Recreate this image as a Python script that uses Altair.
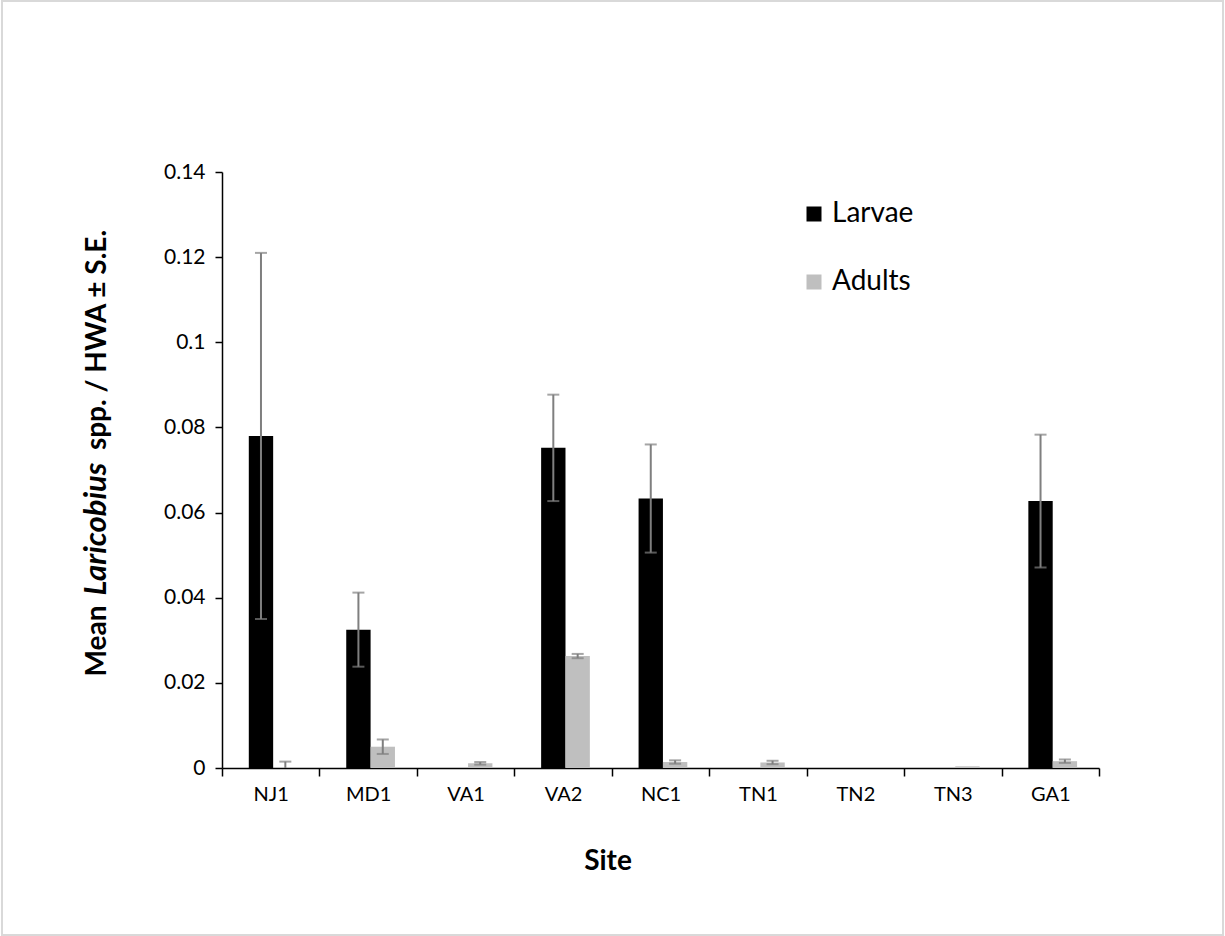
import altair as alt
import pandas as pd

sites = ["NJ1", "MD1", "VA1", "VA2", "NC1", "TN1", "TN2", "TN3", "GA1"]
stages = ["Larvae", "Adults"]
larvae_mean = [0.078, 0.0325, 0.0, 0.0752, 0.0633, 0.0, 0.0, 0.0, 0.0627]
larvae_se = [0.043, 0.0087, 0.0, 0.0125, 0.0127, 0.0, 0.0, 0.0, 0.0156]
adults_mean = [0.0, 0.005, 0.0011, 0.0263, 0.0014, 0.0013, 0.0, 0.0004, 0.0016]
adults_se = [0.0015, 0.0017, 0.0003, 0.0005, 0.0004, 0.0004, 0.0, 0.0, 0.0004]
y_ticks = [0, 0.02, 0.04, 0.06, 0.08, 0.1, 0.12, 0.14]

rows = []
for i, s in enumerate(sites):
    rows.append(dict(site=s, stage="Larvae", mean=larvae_mean[i], se=larvae_se[i]))
    rows.append(dict(site=s, stage="Adults", mean=adults_mean[i], se=adults_se[i]))
df = pd.DataFrame(rows)
df["lo"] = (df["mean"] - df["se"]).clip(lower=0)
df["hi"] = df["mean"] + df["se"]
err = df[df["se"] > 0]
lowcap = err[(err["mean"] - err["se"]) > 0]

W, H = 877, 596
FONT = "Lato"
ERR = "#7f7f7f"

x = alt.X("site:N", sort=sites,
          scale=alt.Scale(paddingInner=0, paddingOuter=0),
          axis=alt.Axis(title=None, tickBand="extent", labelAngle=0,
                        labelFont=FONT, labelFontSize=20, labelColor="black",
                        labelPadding=8, tickSize=8, tickColor="black", tickWidth=1.5,
                        domainColor="black", domainWidth=1.5))
xo = alt.XOffset("stage:N", sort=stages,
                 scale=alt.Scale(paddingInner=0, paddingOuter=1, align=0.55))
y_axis = alt.Axis(title=None, values=y_ticks, format="~g", grid=False,
                  labelFont=FONT, labelFontSize=21, labelColor="black", labelPadding=10,
                  tickSize=7, tickColor="black", tickWidth=1.5,
                  domainColor="black", domainWidth=1.5)
yscale = alt.Scale(domain=[0, 0.14], nice=False)

bars = alt.Chart(df).mark_bar().encode(
    x=x, xOffset=xo,
    y=alt.Y("mean:Q", scale=yscale, axis=y_axis),
    color=alt.Color("stage:N", sort=stages,
                    scale=alt.Scale(domain=stages, range=["#000000", "#bfbfbf"]),
                    legend=alt.Legend(orient="none", legendX=578, legendY=28, title=None,
                                      symbolType="square", symbolSize=225,
                                      symbolStrokeWidth=0, labelFont=FONT,
                                      labelFontSize=28, labelColor="black",
                                      rowPadding=40, labelOffset=4)),
)

rules = alt.Chart(err).mark_rule(color=ERR, strokeWidth=2).encode(
    x=x, xOffset=xo, y=alt.Y("lo:Q", scale=yscale), y2="hi:Q")
caps_hi = alt.Chart(err).mark_tick(orient="horizontal", size=12, thickness=2, color=ERR).encode(
    x=x, xOffset=xo, y=alt.Y("hi:Q", scale=yscale))
caps_lo = alt.Chart(lowcap).mark_tick(orient="horizontal", size=12, thickness=2, color=ERR).encode(
    x=x, xOffset=xo, y=alt.Y("lo:Q", scale=yscale))

one = alt.Data(values=[{}])
border = alt.Chart(one).mark_rect(fillOpacity=0, stroke="#d9d9d9", strokeWidth=2).encode(
    x=alt.value(-220), x2=alt.value(W + 124), y=alt.value(-171), y2=alt.value(H + 167))

def label(text, xp, yp, align, size, italic=False, angle=0, baseline="middle"):
    return alt.Chart(one).mark_text(
        text=text, font=FONT, fontSize=size, fontWeight="bold",
        fontStyle="italic" if italic else "normal", align=align,
        baseline=baseline, angle=angle, color="black",
    ).encode(x=alt.value(xp), y=alt.value(yp))

ytx = 106 - 222
t_mean = label("Mean", ytx, 641 - 172, "center", 28, angle=270, baseline="alphabetic")
t_lar = label("Laricobius", ytx, 529 - 172, "center", 31, italic=True, angle=270, baseline="alphabetic")
t_rest = label("spp. / HWA ± S.E.", ytx, 340 - 172, "center", 28, angle=270, baseline="alphabetic")
t_site = label("Site", 608 - 222, 862 - 172, "center", 28)

chart = alt.layer(border, bars, rules, caps_hi, caps_lo, t_mean, t_lar, t_rest, t_site).properties(
    width=W, height=H,
    padding={"left": 222, "top": 172, "right": 126, "bottom": 168},
    autosize=alt.AutoSizeParams(type="none"),
    background="white",
).configure_view(stroke=None)

chart.save("out.html", embed_options={"renderer": "svg", "actions": False})
